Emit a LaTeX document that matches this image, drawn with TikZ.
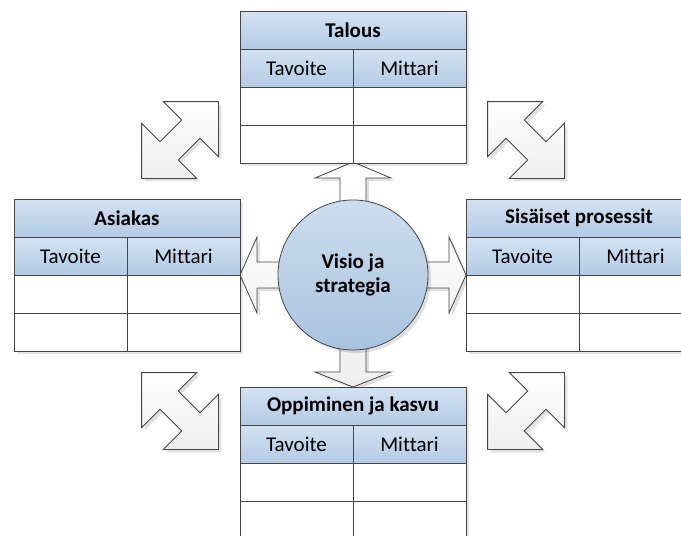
\documentclass[tikz,border=0pt]{standalone}
\usepackage{fontspec}
\setmainfont{Carlito}[Ligatures={NoCommon}]
\usetikzlibrary{shadows}

\definecolor{edge}{HTML}{454545}
\definecolor{hdtop}{HTML}{D2E2F2}
\definecolor{hdbot}{HTML}{B2CBE5}
\definecolor{circtop}{HTML}{CCDDEE}
\definecolor{circbot}{HTML}{A9C3DF}
\definecolor{arrowgray}{HTML}{EFEFEF}

\tikzset{
  cell/.style={draw=edge, line width=0.8pt, rectangle, inner sep=0pt, outer sep=0pt,
    minimum height=38pt, font=\fontsize{21}{24}\selectfont},
  titlecell/.style={cell, minimum width=226pt, top color=hdtop, bottom color=hdbot,
    font=\fontsize{21}{24}\selectfont\bfseries},
  headcell/.style={cell, minimum width=113pt, top color=hdtop, bottom color=hdbot},
  bodycell/.style={cell, minimum width=113pt, fill=white},
  tableshadow/.style={fill=black, opacity=0.10},
  softshadow/.style={drop shadow={shadow xshift=3pt, shadow yshift=-3pt, fill=black, opacity=0.12}},
  arrowshape/.style={draw=edge, line width=0.8pt, line join=miter,
    top color=white, bottom color=arrowgray, softshadow},
  hub/.style={circle, draw=edge, line width=0.8pt, minimum size=150pt, inner sep=0pt,
    top color=circtop, bottom color=circbot, align=center,
    font=\fontsize{21}{24}\selectfont\bfseries, softshadow},
}

% One perspective table: title row, header row, two empty rows
\newcommand\scoretable[4]{%
  \fill[tableshadow] (#2+3,#3+3) rectangle ++(226,152);
  \node[titlecell, anchor=north west] (#1t) at (#2,#3) {#4};
  \node[headcell, anchor=north west] (#1h1) at (#1t.south west) {Tavoite};
  \node[headcell, anchor=north west] (#1h2) at (#1h1.north east) {Mittari};
  \node[bodycell, anchor=north west] (#1a1) at (#1h1.south west) {};
  \node[bodycell, anchor=north west] (#1a2) at (#1a1.north east) {};
  \node[bodycell, anchor=north west] (#1b1) at (#1a1.south west) {};
  \node[bodycell, anchor=north west] (#1b2) at (#1b1.north east) {};
}

% Diagonal double arrows, centred on (0,0)
\newcommand\diagNE{%
  (-16.6,-38.4) -- (38.4,-38.4) -- (38.4,16.6) -- (20,-1.7) -- (-1.7,20) --
  (16.6,38.4) -- (-38.4,38.4) -- (-38.4,-16.6) -- (-20,1.7) -- (1.7,-20) -- cycle}
\newcommand\diagNW{%
  (16.6,-38.4) -- (-38.4,-38.4) -- (-38.4,16.6) -- (-20,-1.7) -- (1.7,20) --
  (-16.6,38.4) -- (38.4,38.4) -- (38.4,-16.6) -- (20,1.7) -- (-1.7,-20) -- cycle}

\begin{document}
\begin{tikzpicture}[x=1pt, y=-1pt]
\clip (0,0) rectangle (681,536);
\fill[white] (0,0) rectangle (681,536);

% hub position
\coordinate (hubc) at (353,275);

% four-way arrow behind the hub
\begin{scope}[shift={(hubc)}]
  \path[arrowshape] (0,-113) -- (38,-97) -- (13,-97) -- (13,-13) -- (96,-13) -- (96,-38)
    -- (113,0) -- (96,38) -- (96,13) -- (13,13) -- (13,97) -- (38,97) -- (0,112)
    -- (-38,97) -- (-13,97) -- (-13,13) -- (-96,13) -- (-96,38) -- (-113,0)
    -- (-96,-38) -- (-96,-13) -- (-13,-13) -- (-13,-97) -- (-38,-97) -- cycle;
\end{scope}

% diagonal double arrows between the perspectives
\begin{scope}[shift={(180,140)}]\path[arrowshape] \diagNE;\end{scope}
\begin{scope}[shift={(526,140)}]\path[arrowshape] \diagNW;\end{scope}
\begin{scope}[shift={(180,411)}]\path[arrowshape] \diagNW;\end{scope}
\begin{scope}[shift={(526,411)}]\path[arrowshape] \diagNE;\end{scope}

% central circle
\node[hub] (hub) at (hubc) {Visio ja\\strategia};

% the four perspective tables
\scoretable{top}{240}{11}{Talous}
\scoretable{left}{14}{199}{Asiakas}
\scoretable{right}{466}{199}{Sisäiset prosessit}
\scoretable{bot}{240}{387}{Oppiminen ja kasvu}
\end{tikzpicture}
\end{document}
